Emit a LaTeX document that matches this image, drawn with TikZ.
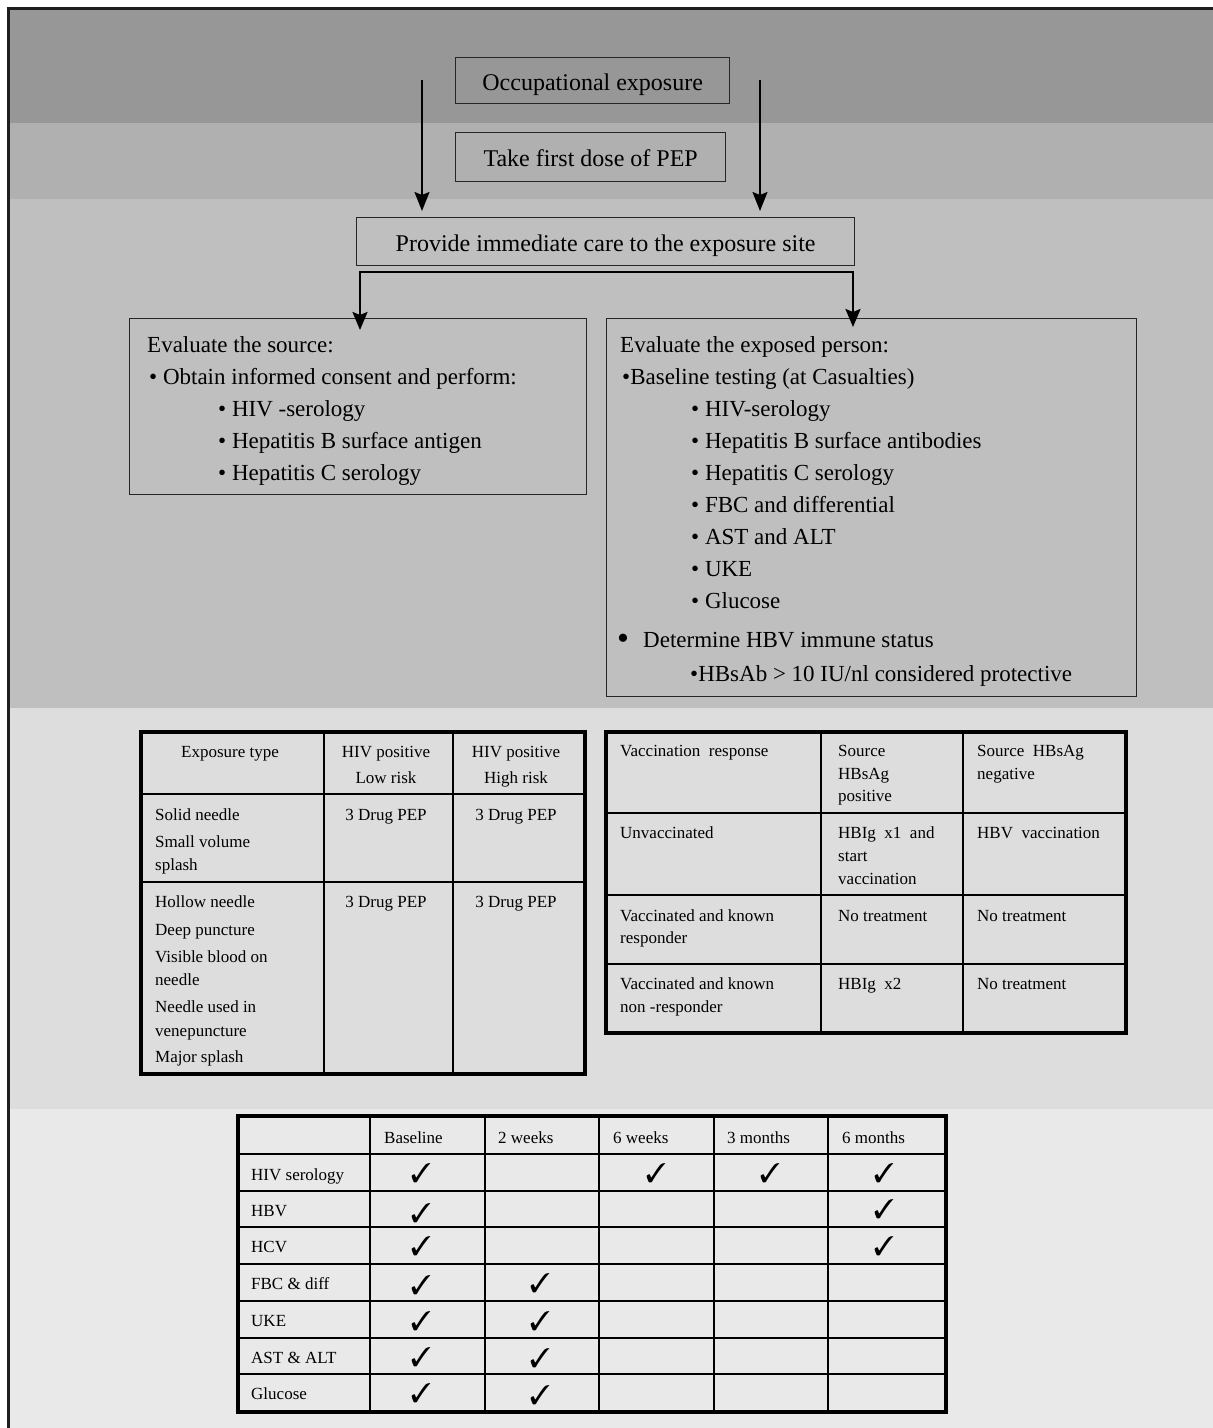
\documentclass[tikz,border=0pt]{standalone}
\usepackage{fontspec}
\setmainfont{Liberation Serif}
\usepackage{pifont}
\usetikzlibrary{arrows.meta}
\newcommand\fsz[1]{\fontsize{#1}{#1}\selectfont}
\definecolor{bandA}{HTML}{979797}
\definecolor{bandB}{HTML}{B0B0B0}
\definecolor{bandC}{HTML}{BFBFBF}
\definecolor{bandD}{HTML}{DDDDDD}
\definecolor{bandE}{HTML}{E9E9E9}
\definecolor{framec}{HTML}{1E1E1E}
\tikzset{
  fbox/.style={draw=black!85, line width=1.3pt, inner sep=0pt, anchor=north west},
  boxtext/.style={font=\fsz{24}, text height=19pt, text depth=0pt},
  tx/.style={anchor=base west, inner sep=0pt, font=\fsz{23}},
  tc/.style={anchor=base west, inner sep=0pt, font=\fsz{17}},
  tcc/.style={anchor=base, inner sep=0pt, font=\fsz{17}},
  ckm/.style={anchor=base, inner sep=0pt, font=\fsz{27}},
  arr/.style={-{Stealth[length=19pt,width=15pt,inset=3pt]}, line width=1.6pt},
  brk/.style={{Stealth[length=18pt,width=15pt,inset=3pt]}-{Stealth[length=18pt,width=15pt,inset=3pt]}, line width=2.4pt},
  gridin/.style={line width=1.3pt, black},
  gridout/.style={line width=3.5pt, black},
}
\newcommand\ck{\ding{51}}
\begin{document}
\begin{tikzpicture}[x=1pt,y=-1pt]
\useasboundingbox (0,0) rectangle (1213,1428);
\clip (0,0) rectangle (1213,1428);
% bands
\fill[white] (0,0) rectangle (1213,1428);
\fill[bandA] (8,8) rectangle (1213,123);
\fill[bandB] (8,123) rectangle (1213,199);
\fill[bandC] (8,199) rectangle (1213,708);
\fill[bandD] (8,708) rectangle (1213,1109);
\fill[bandE] (8,1109) rectangle (1213,1428);
\draw[framec, line width=3pt] (8,1440) -- (8,8) -- (1230,8);

% flow boxes
\node[fbox, minimum width=274pt, minimum height=46pt, boxtext] (occ) at (455,57) {Occupational exposure};
\node[fbox, minimum width=270pt, minimum height=49pt, boxtext] (pep) at (455,132) {Take first dose of PEP};
\node[fbox, minimum width=498pt, minimum height=48pt, boxtext] (prov) at (356,217) {Provide immediate care to the exposure site};
\node[fbox, minimum width=457pt, minimum height=176pt] (src) at (129,318) {};
\node[fbox, minimum width=530pt, minimum height=378pt] (exp) at (606,318) {};

% arrows
\coordinate (la) at (422,80);
\coordinate (ra) at (760,80);
\draw[arr, shorten >=6pt] (la) -- (la |- prov.north);
\draw[arr, shorten >=6pt] (ra) -- (ra |- prov.north);
\coordinate (bl) at (360,272);
\coordinate (br) at (853,272);
\draw[brk] ([yshift=-12pt]bl |- src.north) -- (bl) -- (br) -- ([yshift=-9pt]br |- exp.north);

% source box text
\node[tx] (s0) at (147,352) {Evaluate the source:};
\node[tx] (s1) at (149,384) {• Obtain informed consent and perform:};
\node[tx] (s2) at (218,416) {• HIV -serology};
\node[tx] (s3) at (218,448) {• Hepatitis B surface antigen};
\node[tx] (s4) at (218,480) {• Hepatitis C serology};

% exposed person text
\node[tx] (e0) at (620,352) {Evaluate the exposed person:};
\node[tx] (e1) at (622,384) {•Baseline testing (at Casualties)};
\node[tx] (e2) at (691,416) {• HIV-serology};
\node[tx] (e3) at (691,448) {• Hepatitis B surface antibodies};
\node[tx] (e4) at (691,480) {• Hepatitis C serology};
\node[tx] (e5) at (691,512) {• FBC and differential};
\node[tx] (e6) at (691,544) {• AST and ALT};
\node[tx] (e7) at (691,576) {• UKE};
\node[tx] (e8) at (691,608) {• Glucose};
\node[tx, font=\fsz{34}] (e9b) at (617,649) {•};
\node[tx] (e9) at (643,647) {Determine HBV immune status};
\node[tx] (e10) at (690,681) {•HBsAb > 10 IU/nl considered protective};

% table 1
\foreach \x in {324,453} \draw[gridin] (\x,732) -- (\x,1074);
\foreach \y in {794,882} \draw[gridin] (141,\y) -- (585,\y);
\draw[gridout] (141,732) rectangle (585,1074);
\node[tcc] (h1a) at (230,757) {Exposure type};
\node[tcc] (h1b) at (386,757) {HIV positive};
\node[tcc] (h1c) at (386,783) {Low risk};
\node[tcc] (h1d) at (516,757) {HIV positive};
\node[tcc] (h1e) at (516,783) {High risk};
\node[tcc] (p1) at (386,820) {3 Drug PEP};
\node[tcc] (p2) at (516,820) {3 Drug PEP};
\node[tcc] (p3) at (386,907) {3 Drug PEP};
\node[tcc] (p4) at (516,907) {3 Drug PEP};
\node[tc] (r1a) at (155,820) {Solid needle};
\node[tc] (r1b) at (155,847) {Small volume};
\node[tc] (r1c) at (155,870) {splash};
\node[tc] (r2a) at (155,907) {Hollow needle};
\node[tc] (r2b) at (155,935) {Deep puncture};
\node[tc] (r2c) at (155,962) {Visible blood on};
\node[tc] (r2d) at (155,985) {needle};
\node[tc] (r2e) at (155,1012) {Needle used in};
\node[tc] (r2f) at (155,1036) {venepuncture};
\node[tc] (r2g) at (155,1062) {Major splash};

% table 2
\foreach \x in {821,963} \draw[gridin] (\x,732) -- (\x,1033);
\foreach \y in {813,895,964} \draw[gridin] (606,\y) -- (1126,\y);
\draw[gridout] (606,732) rectangle (1126,1033);
\node[tc] (v0a) at (620,756) {Vaccination\ \ response};
\node[tc] (v0b) at (838,756) {Source};
\node[tc] (v0c) at (838,779) {HBsAg};
\node[tc] (v0d) at (838,801) {positive};
\node[tc] (v0e) at (977,756) {Source\ \ HBsAg};
\node[tc] (v0f) at (977,779) {negative};
\node[tc] (v1a) at (620,838) {Unvaccinated};
\node[tc] (v1b) at (838,838) {HBIg\ \ x1\ \ and};
\node[tc] (v1c) at (838,861) {start};
\node[tc] (v1d) at (838,884) {vaccination};
\node[tc] (v1e) at (977,838) {HBV\ \ vaccination};
\node[tc] (v2a) at (620,921) {Vaccinated and known};
\node[tc] (v2b) at (620,943) {responder};
\node[tc] (v2c) at (838,921) {No treatment};
\node[tc] (v2d) at (977,921) {No treatment};
\node[tc] (v3a) at (620,989) {Vaccinated and known};
\node[tc] (v3b) at (620,1012) {non -responder};
\node[tc] (v3c) at (838,989) {HBIg\ \ x2};
\node[tc] (v3d) at (977,989) {No treatment};

% table 3
\foreach \x in {370,485,599,714,828} \draw[gridin, line width=1.6pt] (\x,1116) -- (\x,1412);
\foreach \y in {1154,1191,1227,1264,1301,1338,1374} \draw[gridin, line width=1.6pt] (238,\y) -- (946,\y);
\draw[gridout] (238,1116) rectangle (946,1412);
\node[tc] (c1) at (384,1143) {Baseline};
\node[tc] (c2) at (498,1143) {2 weeks};
\node[tc] (c3) at (613,1143) {6 weeks};
\node[tc] (c4) at (727,1143) {3 months};
\node[tc] (c5) at (842,1143) {6 months};
\node[tc] (l1) at (251,1180) {HIV serology};
\node[tc] (l2) at (251,1216) {HBV};
\node[tc] (l3) at (251,1252) {HCV};
\node[tc] (l4) at (251,1289) {FBC \& diff};
\node[tc] (l5) at (251,1326) {UKE};
\node[tc] (l6) at (251,1363) {AST \& ALT};
\node[tc] (l7) at (251,1399) {Glucose};
% checks
\node[ckm] (k11) at (421,1182) {\ck};
\node[ckm] (k13) at (656,1182) {\ck};
\node[ckm] (k14) at (770,1182) {\ck};
\node[ckm] (k15) at (884,1182) {\ck};
\node[ckm] (k21) at (421,1222) {\ck};
\node[ckm] (k25) at (884,1218) {\ck};
\node[ckm] (k31) at (421,1255) {\ck};
\node[ckm] (k35) at (884,1255) {\ck};
\node[ckm] (k41) at (421,1294) {\ck};
\node[ckm] (k42) at (540,1292) {\ck};
\node[ckm] (k51) at (421,1330) {\ck};
\node[ckm] (k52) at (540,1330) {\ck};
\node[ckm] (k61) at (421,1366) {\ck};
\node[ckm] (k62) at (540,1367) {\ck};
\node[ckm] (k71) at (421,1402) {\ck};
\node[ckm] (k72) at (540,1404) {\ck};
\end{tikzpicture}
\end{document}
